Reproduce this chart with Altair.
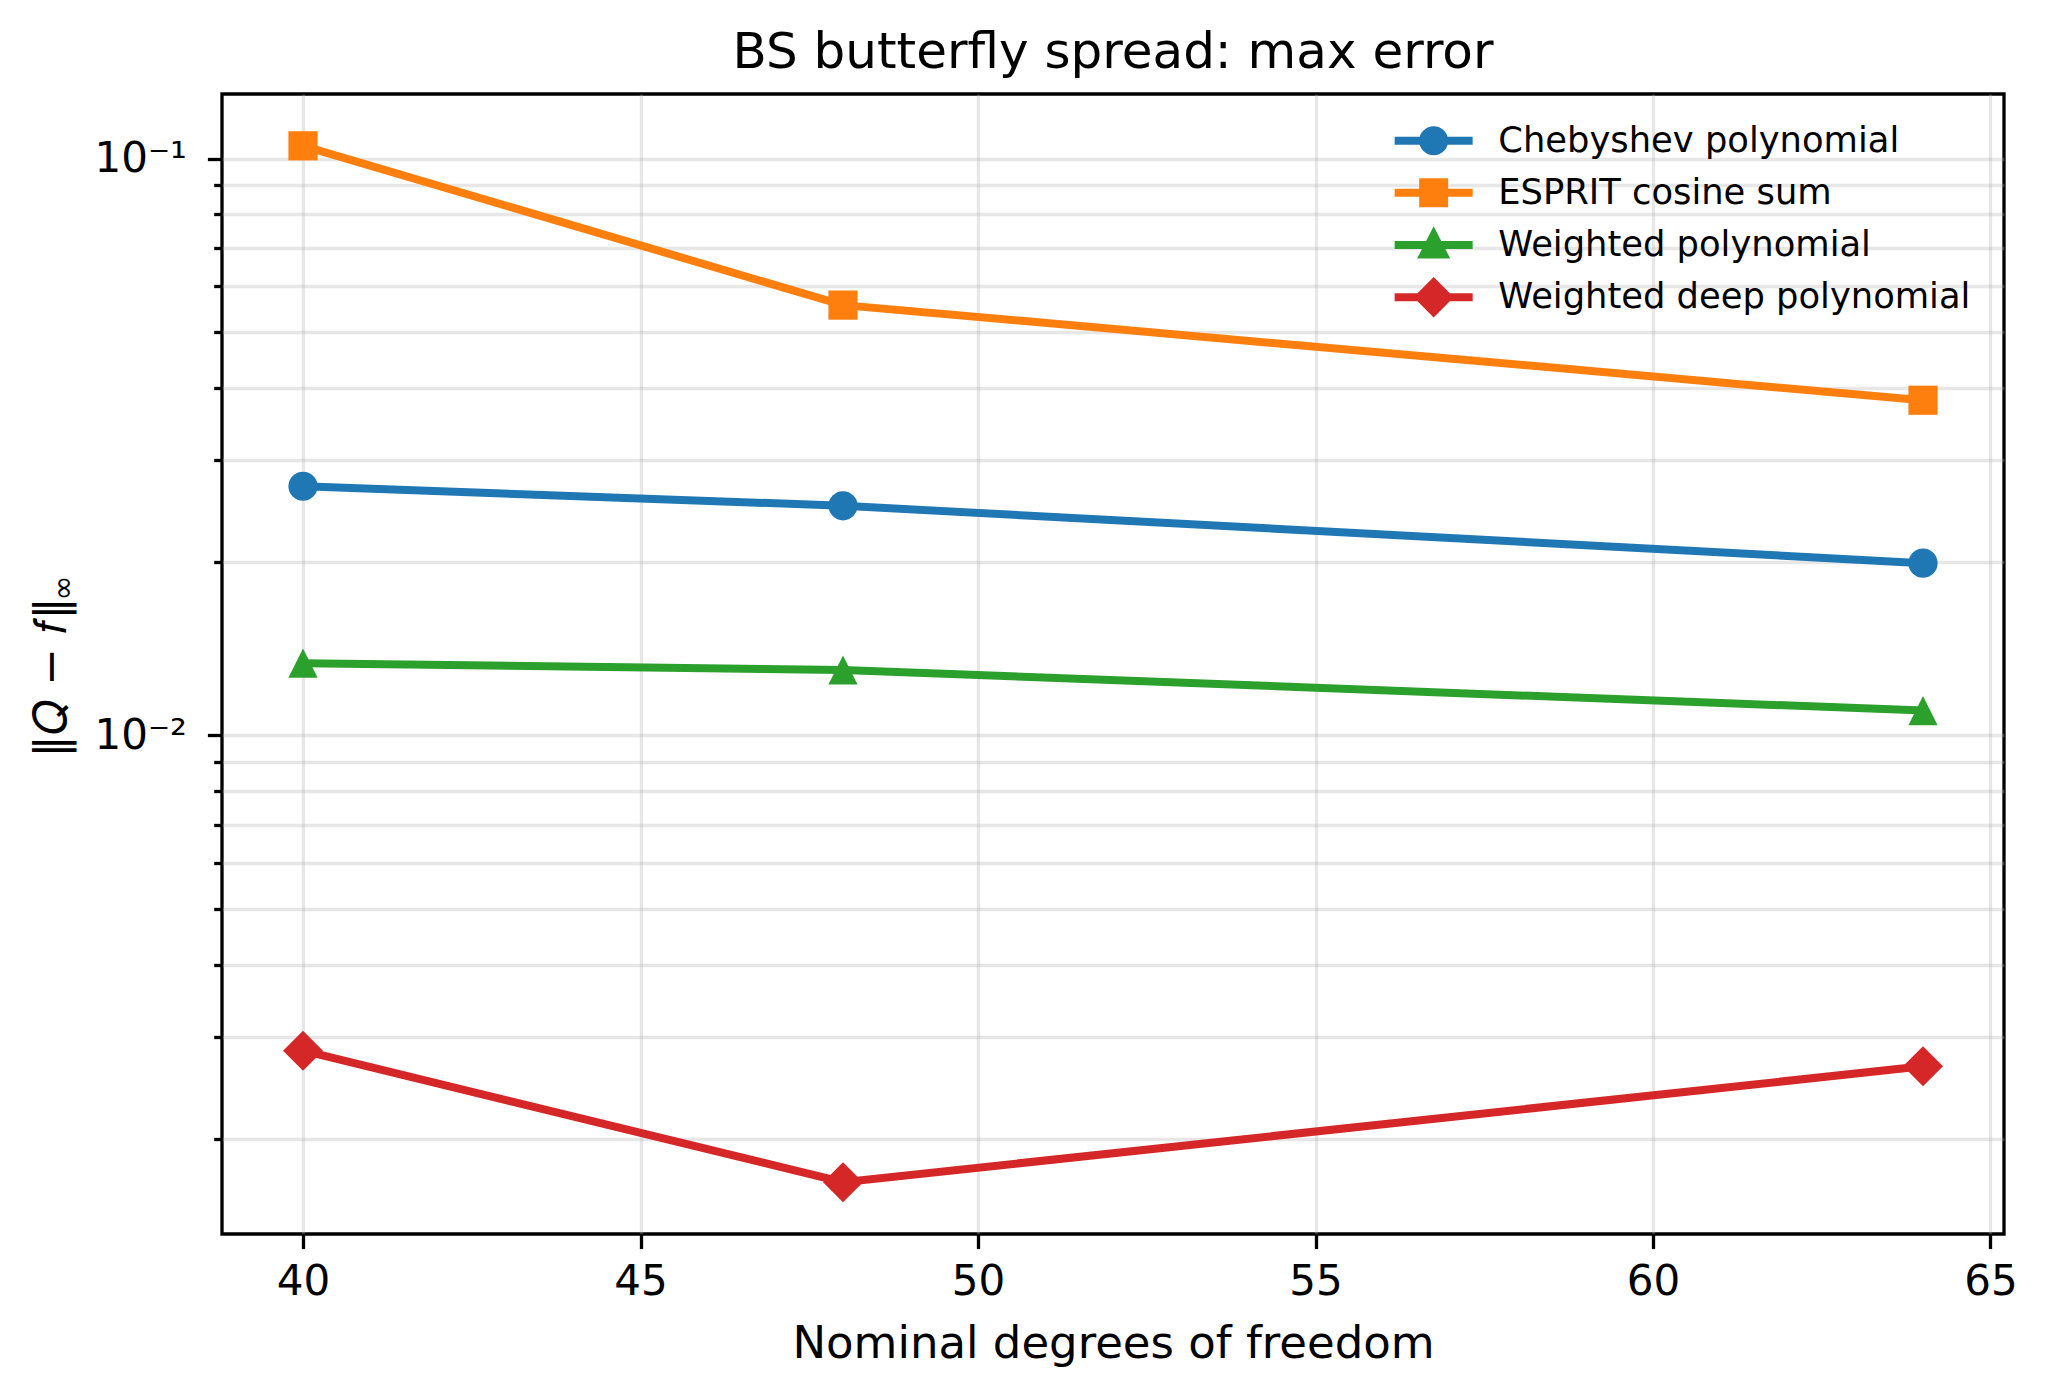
import math
import altair as alt
import pandas as pd

# Nominal degrees of freedom at which each method was evaluated
dof = [40, 48, 64]

# Max-norm approximation error per method
chebyshev = [0.02703, 0.0250, 0.01988]
esprit = [0.1052, 0.0557, 0.0381]
weighted = [0.01334, 0.01298, 0.01104]
weighted_deep = [0.00284, 0.00168, 0.002668]

series_names = [
    "Chebyshev polynomial",
    "ESPRIT cosine sum",
    "Weighted polynomial",
    "Weighted deep polynomial",
]
series_values = [chebyshev, esprit, weighted, weighted_deep]
colors = ["#1f77b4", "#ff7f0e", "#2ca02c", "#d62728"]

x_ticks = [40, 45, 50, 55, 60, 65]
y_ticks = [0.002, 0.003, 0.004, 0.005, 0.006, 0.007, 0.008, 0.009,
           0.01, 0.02, 0.03, 0.04, 0.05, 0.06, 0.07, 0.08, 0.09, 0.1]

rows = []
for name, vals in zip(series_names, series_values):
    for x, v in zip(dof, vals):
        rows.append({"dof": x, "err": v, "method": name})
df = pd.DataFrame(rows)

# axis limits with 5% margins (log space for y)
x_span = max(dof) - min(dof)
x_domain = [min(dof) - 0.05 * x_span, max(dof) + 0.05 * x_span]
all_vals = [v for vals in series_values for v in vals]
lo, hi = math.log10(min(all_vals)), math.log10(max(all_vals))
y_domain = [10 ** (lo - 0.05 * (hi - lo)), 10 ** (hi + 0.05 * (hi - lo))]

FONT = "DejaVu Sans"
LINE_W = 8

# marker shapes on the plot: circle, square, triangle, diamond
plot_shapes = ["circle", "square", "M0,-1L-1,1L1,1Z", "M-1,0L0,-1L1,0L0,1Z"]
plot_sizes = [853, 853, 853, 1600]

# legend handles: a line segment with the marker on top
legend_shapes = [
    "M-3.9,0H3.9M-1.05,0A1.05,1.05 0 1 0 1.05,0A1.05,1.05 0 1 0 -1.05,0Z",
    "M-3.9,0H3.9M-1.05,-1.05H1.05V1.05H-1.05Z",
    "M-3.9,0H3.9M0,-1.0L-1.0,0.95L1.0,0.95Z",
    "M-3.9,0H3.9M-1.45,0L0,-1.45L1.45,0L0,1.45Z",
]

x_enc = alt.X(
    "dof:Q",
    scale=alt.Scale(domain=x_domain, nice=False, zero=False),
    axis=alt.Axis(
        values=x_ticks,
        title="Nominal degrees of freedom",
        titleFontSize=45,
        titleY=123,
        titleBaseline="alphabetic",
        labelFontSize=42,
        labelPadding=13,
        tickSize=14.6,
    ),
)

major_test = "abs(log(datum.value)/LN10 - round(log(datum.value)/LN10)) < 1e-6"

y_enc = alt.Y(
    "err:Q",
    scale=alt.Scale(type="log", domain=y_domain, nice=False),
    axis=alt.Axis(
        values=y_ticks,
        labelExpr="datum.value == 0.1 ? '10⁻¹' : (datum.value == 0.01 ? '10⁻²' : '')",
        title="‖𝑄 − 𝑓‖",
        titleFontSize=45,
        titleX=-157,
        titleY=583,
        titleBaseline="alphabetic",
        labelFontSize=42,
        labelPadding=21,
        tickSize={"condition": {"test": major_test, "value": 14.6}, "value": 8.3},
    ),
)

color_scale = alt.Scale(domain=series_names, range=colors)

base = alt.Chart(df)

lines = base.mark_line(strokeWidth=LINE_W).encode(
    x=x_enc,
    y=y_enc,
    color=alt.Color("method:N", scale=color_scale, legend=None),
)

# one marker layer per method, each with its own fixed symbol
point_layers = []
for name, shape, size in zip(series_names, plot_shapes, plot_sizes):
    point_layers.append(
        base.transform_filter(alt.datum.method == name)
        .mark_point(shape=shape, size=size, filled=True, opacity=1, strokeWidth=0)
        .encode(
            x=x_enc,
            y=y_enc,
            color=alt.Color("method:N", scale=color_scale, legend=None),
        )
    )

# one single-entry legend per method (line + marker handle), stacked top-right
ROW_STEP = 52.2
legend_layers = []
for i, (name, col, path) in enumerate(zip(series_names, colors, legend_shapes)):
    legend_layers.append(
        base.transform_filter(alt.datum.method == name)
        .mark_point(opacity=0, stroke=col)
        .encode(
            x=x_enc,
            y=y_enc,
            fill=alt.Fill(
                "method:N",
                scale=alt.Scale(domain=[name], range=[col]),
                legend=alt.Legend(
                    orient="none",
                    legendX=1194,
                    legendY=29 + ROW_STEP * i,
                    title=None,
                    labelFontSize=35.3,
                    labelFont=FONT,
                    labelColor="black",
                    labelLimit=0,
                    labelOffset=47,
                    symbolType=path,
                    symbolSize=400,
                    symbolStrokeWidth=LINE_W,
                    symbolStrokeColor=col,
                    symbolFillColor=col,
                    symbolOpacity=1,
                    padding=0,
                ),
            ),
        )
    )

# subscript of the y-axis title
sub_df = pd.DataFrame({"t": ["∞"]})
y_sub = alt.Chart(sub_df).mark_text(
    angle=270, fontSize=30, font=FONT, color="black", align="center", baseline="middle"
).encode(x=alt.value(-158.5), y=alt.value(494), text="t:N")

chart = (
    alt.layer(lines, *point_layers, *legend_layers, y_sub)
    .resolve_scale(fill="independent")
    .properties(
        width=1782,
        height=1140,
        autosize=alt.AutoSizeParams(type="none"),
        padding={"left": 222, "top": 94, "right": 42, "bottom": 163},
        title=alt.TitleParams(
            "BS butterfly spread: max error",
            fontSize=50,
            font=FONT,
            fontWeight="normal",
            color="black",
            anchor="middle",
            baseline="alphabetic",
            frame="group",
            offset=26,
            dy=50,
        ),
    )
    .configure(font=FONT)
    .configure_view(stroke="black", strokeWidth=3.3)
    .configure_axis(
        domain=False,
        grid=True,
        gridColor="#b0b0b0",
        gridOpacity=0.3,
        gridWidth=3.3,
        tickColor="black",
        tickWidth=3.3,
        labelColor="black",
        labelFont=FONT,
        titleFont=FONT,
        titleColor="black",
        titleFontWeight="normal",
    )
)

chart.save("out.html", embed_options={"renderer": "svg", "actions": False})
